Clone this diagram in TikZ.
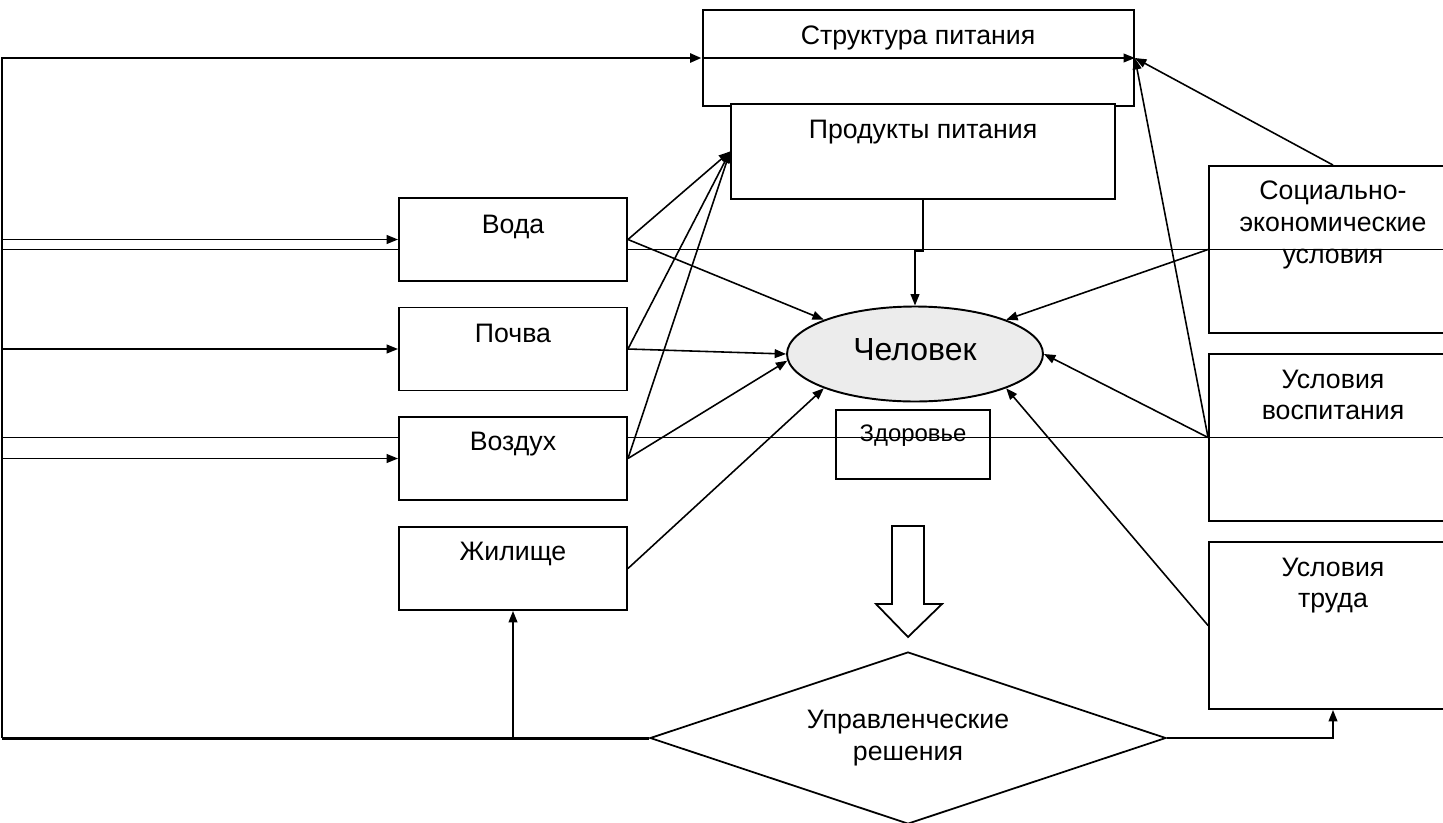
\documentclass[tikz,border=0pt]{standalone}
\usepackage{fontspec}
\setmainfont{Liberation Sans}
\usetikzlibrary{arrows.meta,shapes.geometric,backgrounds}
\tikzset{
  box/.style 2 args={draw, line width=1.1pt, inner sep=0pt, minimum width=#1, minimum height=#2},
  lbl/.style={font=\fontsize{15.2}{18}\selectfont, inner sep=0pt, align=center},
  wire/.style={line width=0.9pt},
  link/.style={line width=0.9pt, -{Triangle[length=6.5pt,width=5pt]}},
  bus/.style={line width=1.7pt}
}
\begin{document}
\begin{tikzpicture}[x=0.02cm, y=-0.02cm]
  \useasboundingbox (0,0) rectangle (1443,822);
  % boxes
  \node[box={8.63cm}{1.92cm}] (struct) at (918.25,58) {};
  \node[box={7.68cm}{1.9cm}, fill=white] (prod) at (923,151.5) {};
  \node[box={4.56cm}{1.66cm}, fill=white] (voda) at (513,239.5) {};
  \node[box={4.56cm}{1.66cm}, fill=white] (pochva) at (513,349) {};
  \node[box={4.56cm}{1.66cm}, fill=white] (vozd) at (513,458.5) {};
  \node[box={4.56cm}{1.66cm}, fill=white] (zhil) at (513,568.5) {};
  \node[box={3.08cm}{1.38cm}] (health) at (913,444.5) {};
  \node[box={4.96cm}{3.34cm}] (social) at (1333,249.5) {};
  \node[box={4.96cm}{3.34cm}] (vospit) at (1333,437.5) {};
  \node[box={4.96cm}{3.34cm}] (trud) at (1333,625.5) {};
  \node[ellipse, draw, line width=1.1pt, fill=gray!15, minimum width=5.12cm, minimum height=1.9cm] (man) at (915,354) {};
  \node[diamond, draw, line width=1pt, shape aspect=3, minimum width=10.32cm, minimum height=3.44cm, lbl] (mgmt) at (908,738) {Управленческие\\решения};
  \coordinate (bb) at (2,738);

  % long lines behind the boxes
  \begin{scope}[on background layer]
    \draw[wire] (bb |- social.west) -- (social.west) -- ++(260,0);
    \draw[wire] (bb |- vospit.west) -- (vospit.west) -- ++(260,0);
  \end{scope}

  % left bus
  \draw[link, bus] (bb) -- (bb |- struct.west) -- (struct.west);
  \draw[link] (struct.west) -- (struct.east);
  \draw[bus] (bb) -- (mgmt.west);
  \draw[link] (zhil.south |- bb) -- (zhil.south);
  \draw[link] (mgmt.east) -| (trud.south);
  \foreach \src in {voda, pochva, vozd}
    \draw[link] (bb |- \src.west) -- (\src.west);

  % into products and man
  \foreach \src in {voda, pochva, vozd}
    \draw[link] (\src.east) -- (prod.west);
  \draw[link] (prod.south) -- ++(0,51) -| (man.north);
  \draw[link] (voda.east) -- (man.north west);
  \draw[link] (pochva.east) -- (man.west);
  \draw[link] (vozd.east) -- (man.183);
  \draw[link] (zhil.east) -- (man.south west);
  \draw[link] (social.west) -- (man.north east);
  \draw[link] (vospit.west) -- (man.east);
  \draw[link] (trud.west) -- (man.south east);
  \draw[link] (social.north) -- (struct.east);
  \draw[link] (vospit.west) -- (struct.east);

  % hollow arrow
  \draw[line width=1pt, fill=white] (892,526) -- (924,526) -- (924,604) -- (942,604)
    -- (908,637) -- (876,604) -- (892,604) -- cycle;

  % texts
  \node[lbl, anchor=base] (struct-t) at (918,44) {Структура питания};
  \node[lbl, anchor=base] (prod-t) at (923,138) {Продукты питания};
  \node[lbl, anchor=base] (voda-t) at (513,233) {Вода};
  \node[lbl, anchor=base] (pochva-t) at (513,342) {Почва};
  \node[lbl, anchor=base] (vozd-t) at (513,450) {Воздух};
  \node[lbl, anchor=base] (zhil-t) at (513,560) {Жилище};
  \node[lbl, anchor=base, font=\fontsize{18.2}{21}\selectfont] (man-t) at (915,360) {Человек};
  \node[lbl, anchor=base, font=\fontsize{13.6}{17}\selectfont] (health-t) at (913,441) {Здоровье};
  \node[lbl] (social-t) at (1333,225) {Социально-\\экономические\\условия};
  \node[lbl] (vospit-t) at (1333,395) {Условия\\воспитания};
  \node[lbl] (trud-t) at (1333,585.5) {Условия\\труда};
\end{tikzpicture}
\end{document}
